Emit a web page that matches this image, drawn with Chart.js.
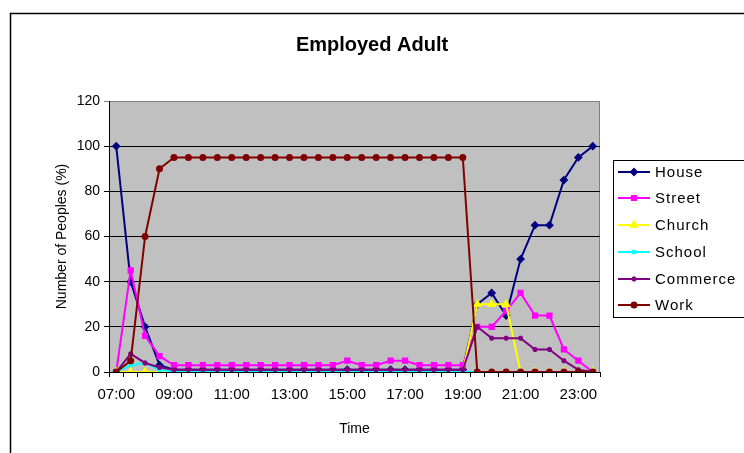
<!DOCTYPE html>
<html>
<head>
<meta charset="utf-8">
<script src="https://cdn.jsdelivr.net/npm/chart.js@4.4.0/dist/chart.umd.min.js"></script>
<style>
  html, body { margin: 0; padding: 0; background: #fff; }
  canvas { display: block; }
</style>
</head>
<body>
<canvas id="chart" width="744" height="453"></canvas>
<script>
const times = ['07:00','07:30','08:00','08:30','09:00','09:30','10:00','10:30','11:00','11:30',
  '12:00','12:30','13:00','13:30','14:00','14:30','15:00','15:30','16:00','16:30',
  '17:00','17:30','18:00','18:30','19:00','19:30','20:00','20:30','21:00','21:30',
  '22:00','22:30','23:00','23:30'];

const house    = [100,40,20,3,1,1,1,1,1,1,1,1,1,1,1,1,1,1,1,1,1,1,1,1,1,30,35,25,50,65,65,85,95,100];
const street   = [0,45,16,7,3,3,3,3,3,3,3,3,3,3,3,3,5,3,3,5,5,3,3,3,3,20,20,27,35,25,25,10,5,0];
const church   = [0,0,0,0,0,0,0,0,0,0,0,0,0,0,0,0,0,0,0,0,0,0,0,0,0,30,30,30,0,0,0,0,0,0];
const school   = [0,3,4,1,0,0,0,0,0,0,0,0,0,0,0,0,0,0,0,0,0,0,0,0,0,0,0,0,0,0,0,0,0,0];
const commerce = [0,8,4,2,1,1,1,1,1,1,1,1,1,1,1,1,1,1,1,1,1,1,1,1,1,20,15,15,15,10,10,5,1,0];
const work     = [0,5,60,90,95,95,95,95,95,95,95,95,95,95,95,95,95,95,95,95,95,95,95,95,95,0,0,0,0,0,0,0,0,0];

const seriesNames = ['House', 'Street', 'Church', 'School', 'Commerce', 'Work'];
const seriesData = [house, street, church, school, commerce, work];
const colors = ['#000080', '#ff00ff', '#ffff00', '#00ffff', '#800080', '#800000'];
const markers = ['rectRot', 'rect', 'triangle', 'crossRot', 'star', 'circle'];
const radii = [3, 3, 3.5, 2.5, 2.5, 2.5];

const FONT = "'Liberation Sans', Arial, sans-serif";

const datasets = seriesNames.map((name, i) => ({
  label: name,
  data: seriesData[i],
  borderColor: colors[i],
  backgroundColor: colors[i],
  pointBackgroundColor: colors[i],
  pointBorderColor: colors[i],
  pointStyle: markers[i],
  pointRadius: radii[i],
  borderWidth: 2,
  tension: 0,
  order: seriesNames.length - i
}));

// excel-ish frame, grey plot area and the legend box on the right
const frame = {
  id: 'frame',
  beforeDraw(chart) {
    const { ctx, chartArea: a } = chart;
    ctx.save();
    ctx.fillStyle = '#fff';
    ctx.fillRect(0, 0, chart.width, chart.height);
    ctx.strokeStyle = '#000';
    ctx.lineWidth = 1.5;
    ctx.strokeRect(10.5, 13.5, 900, 600);
    ctx.fillStyle = '#c0c0c0';
    ctx.fillRect(a.left, a.top, a.right - a.left, a.bottom - a.top);
    ctx.strokeStyle = '#808080';
    ctx.lineWidth = 1;
    ctx.strokeRect(a.left + 0.5, a.top + 0.5, a.right - a.left - 1, a.bottom - a.top);
    ctx.restore();
  },
  afterDraw(chart) {
    const ctx = chart.ctx;
    ctx.save();
    ctx.strokeStyle = '#000';
    ctx.lineWidth = 1;
    ctx.strokeRect(613.5, 160.5, 200, 157);
    const rows = [172, 198, 225, 252, 279, 305];
    ctx.font = '15px ' + FONT;
    ctx.letterSpacing = '1px';
    ctx.textBaseline = 'middle';
    ctx.textAlign = 'left';
    seriesNames.forEach((name, i) => {
      const y = rows[i];
      ctx.strokeStyle = colors[i];
      ctx.fillStyle = colors[i];
      ctx.lineWidth = 2;
      ctx.beginPath();
      ctx.moveTo(618, y);
      ctx.lineTo(650, y);
      ctx.stroke();
      if (Chart.helpers && Chart.helpers.drawPoint) {
        Chart.helpers.drawPoint(ctx, { pointStyle: markers[i], radius: radii[i], rotation: 0, borderWidth: 1 }, 634, y);
      }
      ctx.fillStyle = '#000';
      ctx.fillText(name, 655, y + 1);
    });
    ctx.restore();
  }
};

new Chart(document.getElementById('chart'), {
  type: 'line',
  data: { labels: times, datasets },
  options: {
    responsive: false,
    animation: false,
    layout: { padding: 0 },
    plugins: {
      legend: { display: false },
      tooltip: { enabled: false },
      title: {
        display: true,
        text: 'Employed Adult',
        color: '#000',
        font: { family: FONT, size: 20, weight: 'bold' },
        padding: { top: 33, bottom: 44 }
      }
    },
    scales: {
      x: {
        offset: true,
        grid: { offset: true, drawOnChartArea: false, color: '#000', tickLength: 5 },
        border: { color: '#000', width: 1 },
        ticks: {
          autoSkip: false,
          maxRotation: 0,
          color: '#000',
          padding: 9,
          font: { family: FONT, size: 15 },
          callback(v, i) { return i % 4 === 0 ? this.getLabelForValue(v) : ''; }
        },
        title: {
          display: true, text: 'Time', color: '#000',
          font: { family: FONT, size: 14 },
          padding: { top: 0, bottom: 15 }
        },
        afterFit(s) { s.height = 81; }
      },
      y: {
        min: 0,
        max: 120,
        grid: {
          color: c => (c.tick && c.tick.value === 120 ? '#808080' : '#000'),
          tickLength: 5
        },
        border: { color: '#000', width: 1 },
        ticks: { stepSize: 20, color: '#000', padding: 4, font: { family: FONT, size: 14 } },
        title: {
          display: true, text: 'Number of Peoples (%)', color: '#000',
          font: { family: FONT, size: 14 },
          padding: { top: 54, bottom: 0 }
        },
        afterFit(s) { s.width = 109; }
      },
      // empty right-hand box: keeps room for the legend so the title centres on the whole chart
      side: {
        position: 'right',
        min: 0,
        max: 120,
        ticks: { display: false },
        grid: { display: false },
        border: { display: false },
        afterFit(s) { s.width = 144; }
      }
    }
  },
  plugins: [frame]
});
</script>
</body>
</html>
